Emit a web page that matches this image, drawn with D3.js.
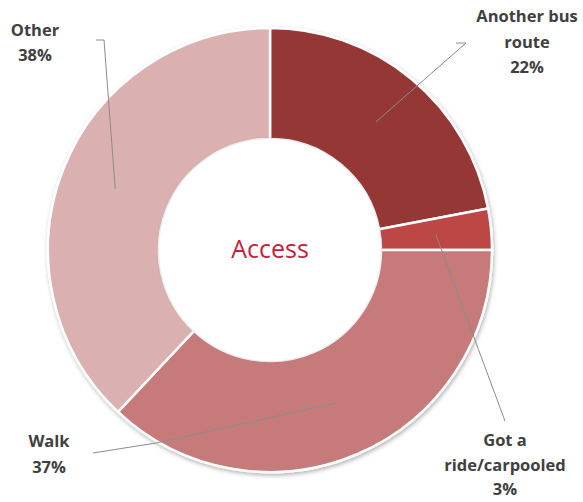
<!DOCTYPE html>
<html lang="en">
<head>
    <meta charset="UTF-8">
    <title>Access</title>
    <script src="https://d3js.org/d3.v7.min.js"></script>
    <style>
        body { margin: 0; background: #fff; }
        text { font-family: "Open Sans", "Liberation Sans", sans-serif; }
    </style>
</head>
<body>
    <svg id="chart" width="583" height="502"></svg>
    <script>
        // data
        const categories = ["Another bus route", "Got a ride/carpooled", "Walk", "Other"];
        const values = [22, 3, 37, 38];
        const labelLines = [["Another bus", "route", "22%"], ["Got a", "ride/carpooled", "3%"], ["Walk", "37%"], ["Other", "38%"]];

        const palette = ["#953735", "#bc4745", "#c77a7a", "#dbb0b0"];

        const svg = d3.select("#chart");
        const cx = 270, cy = 250;
        const outerR = 222, innerR = 111;

        // label placement: text anchor, line spacing and leader elbow points
        const labelLayout = [
            { x: 527, y: 22, dy: 25.5, elbow: [[466, 43], [456, 43]] },
            { x: 505, y: 446, dy: 24.5, elbow: [[505, 421]] },
            { x: 49, y: 447, dy: 25.5, elbow: [[156, 443], [93, 453]] },
            { x: 35, y: 36, dy: 25, elbow: [[104, 40], [96, 40]] }
        ];

        const defs = svg.append("defs");
        const f = defs.append("filter").attr("id", "shadow")
            .attr("x", "-10%").attr("y", "-10%").attr("width", "120%").attr("height", "120%");
        f.append("feDropShadow").attr("dx", 1).attr("dy", 2).attr("stdDeviation", 2)
            .attr("flood-color", "#000").attr("flood-opacity", 0.3);
        const f2 = defs.append("filter").attr("id", "inner")
            .attr("x", "-10%").attr("y", "-10%").attr("width", "120%").attr("height", "120%");
        f2.append("feDropShadow").attr("dx", 0).attr("dy", 0).attr("stdDeviation", 1.5)
            .attr("flood-color", "#6a8a8a").attr("flood-opacity", 0.45);

        const color = d3.scaleOrdinal().domain(categories).range(palette);

        const pie = d3.pie().sort(null).value(d => d.value);
        const arcs = pie(categories.map((c, i) => ({ name: c, value: values[i] })));
        const arc = d3.arc().innerRadius(innerR).outerRadius(outerR);

        const g = svg.append("g").attr("transform", `translate(${cx},${cy})`);

        g.append("g").attr("filter", "url(#shadow)")
            .selectAll("path")
            .data(arcs)
            .join("path")
            .attr("d", arc)
            .attr("fill", d => color(d.data.name))
            .attr("stroke", "#fff")
            .attr("stroke-width", 2.5);

        // white hole with soft edge
        g.append("circle")
            .attr("r", innerR - 1)
            .attr("fill", "#fff")
            .attr("stroke", "#fff")
            .attr("stroke-width", 2)
            .attr("filter", "url(#inner)");

        g.append("text")
            .attr("text-anchor", "middle")
            .attr("y", 8)
            .attr("fill", "#c8203a")
            .style("font-size", "25px")
            .text("Access");

        // leader lines from arc centroid
        const lineGen = d3.line();
        arcs.forEach((d, i) => {
            const c = arc.centroid(d);
            const pts = [[c[0] + cx, c[1] + cy], ...labelLayout[i].elbow];
            svg.append("path")
                .attr("d", lineGen(pts))
                .attr("fill", "none")
                .attr("stroke", "#8c8c8c")
                .attr("stroke-width", 1);
        });

        labelLines.forEach((lines, i) => {
            const t = svg.append("text")
                .attr("x", labelLayout[i].x)
                .attr("y", labelLayout[i].y)
                .attr("text-anchor", "middle")
                .attr("fill", "#404040")
                .style("font-size", "16.5px")
                .style("font-weight", "bold");
            lines.forEach((s, j) => {
                t.append("tspan")
                    .attr("x", labelLayout[i].x)
                    .attr("dy", j === 0 ? 0 : labelLayout[i].dy)
                    .text(s);
            });
        });
    </script>
</body>
</html>
